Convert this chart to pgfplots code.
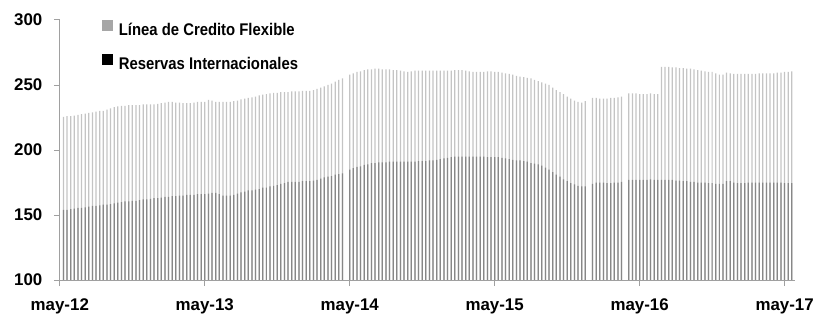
\documentclass[border=0pt]{standalone}
\usepackage{pgfplots}
\pgfplotsset{compat=1.18}
\usepackage{pgfplotstable}
\usetikzlibrary{calc}
\usepackage{fontspec}
\setmainfont{Liberation Sans}
\newfontfamily\legfont{Liberation Sans}[FakeStretch=0.88]
\pgfplotstableread{
i tot res
1 225.5 154
2 226 154
3 226 154.5
4 226.5 155
5 227 155.5
6 227.5 155.5
7 228 156
8 228.5 156.5
9 229 157
10 229.5 157
11 230 157.5
12 230 158
13 231 158
14 232 158.5
15 233 159
16 233.5 159.5
17 234 160
18 234 160.5
19 234.5 160.5
20 234.5 161
21 234.5 161
22 234.5 161.5
23 235 162
24 235 162
25 235 162.5
26 235 163
27 235.5 163
28 236 163.5
29 236.5 164
30 237 164
31 237 164.5
32 236.5 164.5
33 236.5 165
34 236 165
35 236 165.5
36 236 165.5
37 236.5 165.5
38 237 166
39 237 166
40 237 166
41 238.5 166.5
42 238 167
43 237 167
44 237 166
45 237 165
46 237 165
47 237 165
48 237.5 165.5
49 238 166.5
50 239 167.5
51 239.5 168
52 240 169
53 240.5 169
54 241 169.5
55 242 170
56 242.5 171
57 243 171
58 243.5 172
59 244 172.5
60 244 173
61 244.5 174
62 244.5 174.5
63 244.5 175.5
64 245 175.5
65 245 175.5
66 245 175.5
67 245.5 176
68 245.5 176
69 245.5 176
70 246 176.5
71 247 177
72 248 178
73 249 179
74 250 179.5
75 251 180
76 252.5 181
77 254 181.5
78 255 182
80 258 185
81 259 186
82 260 187
83 260.5 187.5
84 261.5 188.5
85 262 189
86 262 190
87 262.5 190
88 262.5 190.5
89 262 190.5
90 262 190.5
91 262 191
92 261.5 191
93 261.5 191
94 261 191
95 260.5 191
96 260 191
97 260.5 191
98 261 191
99 261 191.5
100 261 191.5
101 261 191.5
102 261 192
103 261 192
104 261 192.5
105 261 193
106 261 193.5
107 261 194
108 261 194.5
109 261.5 195
110 261.5 195
111 261.5 195
112 261 195
113 260.5 195
114 260 195
115 260 195
116 260 195
117 260 195
118 260.5 194.5
119 260.5 194.5
120 260 194.5
121 260 194.5
122 259.5 194
123 259 193.5
124 258.5 193
125 258 192.5
126 257 192
127 256.5 192
128 256 191.5
129 255.5 191
130 255 190
131 254 189.5
132 253 189
133 252 188
134 251 186.5
135 250 185
136 248 183
137 246 181
138 244.5 179.5
139 243 177.5
140 241 176
141 239.5 174.5
142 238 173.5
143 237 172.5
144 236.5 172
145 237.5 172
147 240 174
148 240 175
149 239.5 175
150 239.5 175
151 239.5 174.5
152 240 174.5
153 240 175
154 240.5 175
155 241 175.5
157 243.5 177
158 243.5 177
159 243.5 177
160 243 177
161 243 177
162 243 177
163 243.5 177.5
164 243 177
165 243 177
166 264 177
167 264 177
168 264 177
169 263.5 177
170 263.5 176.5
171 263 176.5
172 263 176
173 262.5 176
174 262.5 175.5
175 262 175.5
176 261.5 175
177 261 175
178 260.5 175
179 260 174.5
180 260 174.5
181 259 174
182 258 174
183 258 174
184 259.5 176
185 259 176
186 258.5 175
187 258.5 174.5
188 258.5 174.5
189 258.5 174.5
190 258.5 175
191 258.5 175
192 258.5 175
193 259 175
194 259 175
195 259 175
196 259 175
197 259 175
198 259.5 175
199 259.5 175
200 260 174.5
201 260 174.5
202 260.5 174.5
}\datatable
\definecolor{axgray}{HTML}{A0A0A0}
\definecolor{leggray}{HTML}{A6A6A6}
\begin{document}
\begin{tikzpicture}
\begin{axis}[
  scale only axis,
  width=738bp, height=261bp,
  xmin=0, xmax=203,
  ymin=100, ymax=300,
  axis lines=left,
  axis line style={-, draw=axgray, line width=0.9pt},
  tick style={draw=axgray, line width=0.9pt},
  tick align=outside,
  major tick length=6bp,
  xtick={0,40,80,120,160,200},
  xticklabels={may-12,may-13,may-14,may-15,may-16,may-17},
  ytick={100,150,200,250,300},
  minor tick num=0,
  /pgf/number format/assume math mode=true,
  tick label style={font=\bfseries\fontsize{17}{19}\selectfont},
  yticklabel style={xshift=-8bp},
  xticklabel style={yshift=-9bp},
  legend style={at={(rel axis cs:0.057,1.0)}, anchor=north west, draw=none, fill=none,
    font=\legfont\bfseries\fontsize{17}{19}\selectfont, row sep=15bp, inner sep=0pt,
    column sep=4bp},
  legend cell align=left,
  legend image code/.code={\fill[#1,draw=none] (0bp,-1bp) rectangle (11bp,10bp);},
]
\addplot[ybar, bar width=1.25bp, bar shift=0pt, fill=black!23, draw=none, forget plot] table[x=i, y=tot]{\datatable};
\addplot[ybar, bar width=1.25bp, bar shift=0pt, fill=black!47, draw=none, forget plot] table[x=i, y=res]{\datatable};
\addlegendimage{fill=leggray,draw=none}
\addlegendentry{Línea de Credito Flexible}
\addlegendimage{fill=black,draw=none}
\addlegendentry{Reservas Internacionales}
\end{axis}
\path ($(current axis.south west)+(-60bp,-37bp)$) rectangle ($(current axis.north east)+(20bp,20bp)$);
\end{tikzpicture}
\end{document}
